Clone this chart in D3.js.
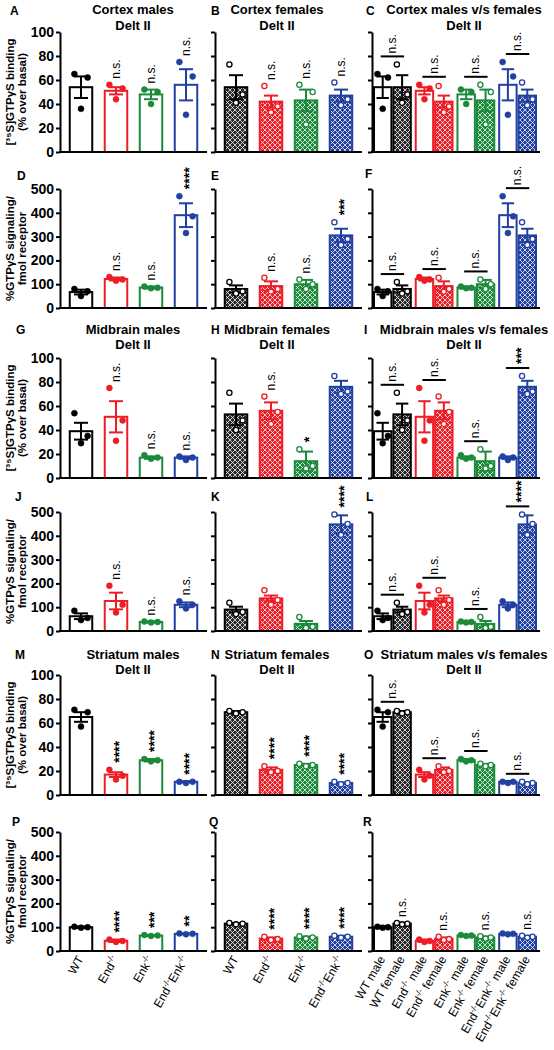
<!DOCTYPE html>
<html><head><meta charset="utf-8">
<script src="https://cdn.jsdelivr.net/npm/d3@7"></script>
<style>body{margin:0;background:#fff} text{font-family:"Liberation Sans",Arial,Helvetica,sans-serif}</style>
</head><body>
<script>
// ---------------- DATA ----------------
const genotypeLabels = [[["WT",0]],[["End",0],["-/-",1]],[["Enk",0],["-/-",1]],[["End",0],["-/-",1],["Enk",0],["-/-",1]]];
const sexLabels = ["male","female"];
const genotypeColors = ["#000000","#ee1c25","#1b8a3a","#2140a2"];

const ctxBindMaleMean = [54, 51, 48, 56];
const ctxBindMaleSem  = [9, 3, 4, 13];
const ctxBindMalePts  = [[65,62,36],[56,53,44],[52,50,40],[75,63,31]];
const ctxBindFemaleMean = [54, 42, 43, 47];
const ctxBindFemaleSem  = [10, 5, 9, 5];
const ctxBindFemalePts  = [[73,48,41],[55,38,33],[56,50,23],[58,44,39]];

const ctxSigMaleMean = [67, 122, 86, 390];
const ctxSigMaleSem  = [10, 6, 4, 50];
const ctxSigMalePts  = [[80,70,50],[130,120,115],[90,85,83],[470,385,315]];
const ctxSigFemaleMean = [80, 92, 100, 305];
const ctxSigFemaleSem  = [15, 20, 18, 28];
const ctxSigFemalePts  = [[109,70,61],[127,80,69],[120,100,80],[360,290,265]];

const midBindMaleMean = [39, 51, 17, 17];
const midBindMaleSem  = [7, 13, 1, 1];
const midBindMalePts  = [[54,35,29],[75,48,31],[19,17,16],[18,17,15]];
const midBindFemaleMean = [53, 56, 14, 76];
const midBindFemaleSem  = [9, 7, 8, 5];
const midBindFemalePts  = [[71,48,40],[68,55,45],[24,10,8],[85,72,70]];

const midSigMaleMean = [62, 126, 38, 110];
const midSigMaleSem  = [12, 35, 3, 10];
const midSigMalePts  = [[85,55,46],[190,110,78],[40,38,36],[125,110,95]];
const midSigFemaleMean = [90, 137, 30, 448];
const midSigFemaleSem  = [12, 12, 12, 38];
const midSigFemalePts  = [[119,80,71],[171,130,110],[59,18,13],[490,450,404]];

const strBindMaleMean = [65, 17, 29, 11];
const strBindMaleSem  = [4, 2, 1, 0.5];
const strBindMalePts  = [[71,69,57],[21,16,13],[30,29,28],[11,11,10]];
const strBindFemaleMean = [69, 21, 25, 10];
const strBindFemaleSem  = [1, 2, 1, 0.5];
const strBindFemalePts  = [[70,69,68],[24,20,19],[26,25,24],[11,10,9]];

const strSigMaleMean = [100, 43, 65, 72];
const strSigMaleSem  = [3, 5, 2, 2];
const strSigMalePts  = [[102,100,98],[48,42,38],[67,65,63],[74,72,70]];
const strSigFemaleMean = [115, 52, 57, 60];
const strSigFemaleSem  = [2, 5, 4, 4];
const strSigFemalePts  = [[118,115,112],[60,50,46],[62,57,52],[64,60,56]];

const sigA = ["", "n.s.", "n.s.", "n.s."];
const sigB = ["", "n.s.", "n.s.", "n.s."];
const sigC = ["n.s.", "n.s.", "n.s.", "n.s."];
const sigD = ["", "n.s.", "n.s.", "****"];
const sigE = ["", "n.s.", "n.s.", "***"];
const sigF = ["n.s.", "n.s.", "n.s.", "n.s."];
const sigG = ["", "n.s.", "n.s.", "n.s."];
const sigH = ["", "n.s.", "*", ""];
const sigI = ["n.s.", "n.s.", "n.s.", "***"];
const sigJ = ["", "n.s.", "n.s.", "n.s."];
const sigK = ["", "", "", "****"];
const sigL = ["n.s.", "n.s.", "n.s.", "****"];
const sigM = ["", "****", "****", "****"];
const sigN = ["", "****", "****", "****"];
const sigO = ["n.s.", "n.s.", "n.s.", "n.s."];
const sigP = ["", "****", "***", "**"];
const sigQ = ["", "****", "****", "****"];
const sigR = ["n.s.", "n.s.", "n.s.", "n.s."];

const bindTicks = [0, 20, 40, 60, 80, 100];
const sigTicks = [0, 100, 200, 300, 400, 500];
const yTitleBind = ["[³⁵S]GTPγS binding", "(% over basal)"];
const yTitleSig = ["%GTPγS signaling/", "fmol receptor"];

// ---------------- LAYOUT ----------------
const W = 554, H = 1050;
const cols = [[60, 207], [215, 362], [372, 540]];
const rows = [[32, 152], [189, 308], [358, 478], [512, 631], [675, 795], [832, 951]];

const svg = d3.select("body").append("svg").attr("width", W).attr("height", H);
const defs = svg.append("defs");
genotypeColors.forEach((c, i) => {
  const p = defs.append("pattern").attr("id", "pat" + i).attr("patternUnits", "userSpaceOnUse")
    .attr("width", 5).attr("height", 5);
  p.append("rect").attr("width", 5).attr("height", 5).attr("fill", i === 0 ? "#2a2a2a" : c);
  p.append("path").attr("d", "M-1,1 L1,-1 M0,5 L5,0 M4,6 L6,4 M-1,4 L1,6 M0,0 L5,5 M4,-1 L6,1")
    .attr("stroke", "#fff").attr("stroke-width", 0.75).attr("fill", "none");
});

const ds = (mean, sem, pts) => ({ mean, sem, pts });
const panels = [
  { L: "A", r: 0, c: 0, sex: 0, d: ds(ctxBindMaleMean, ctxBindMaleSem, ctxBindMalePts), sig: sigA, title: ["Cortex males", "Delt II"] },
  { L: "B", r: 0, c: 1, sex: 1, d: ds(ctxBindFemaleMean, ctxBindFemaleSem, ctxBindFemalePts), sig: sigB, title: ["Cortex females", "Delt II"] },
  { L: "C", r: 0, c: 2, cmp: [ds(ctxBindMaleMean, ctxBindMaleSem, ctxBindMalePts), ds(ctxBindFemaleMean, ctxBindFemaleSem, ctxBindFemalePts)], sig: sigC, title: ["Cortex males v/s females", "Delt II"] },
  { L: "D", r: 1, c: 0, sex: 0, d: ds(ctxSigMaleMean, ctxSigMaleSem, ctxSigMalePts), sig: sigD },
  { L: "E", r: 1, c: 1, sex: 1, d: ds(ctxSigFemaleMean, ctxSigFemaleSem, ctxSigFemalePts), sig: sigE },
  { L: "F", r: 1, c: 2, cmp: [ds(ctxSigMaleMean, ctxSigMaleSem, ctxSigMalePts), ds(ctxSigFemaleMean, ctxSigFemaleSem, ctxSigFemalePts)], sig: sigF },
  { L: "G", r: 2, c: 0, sex: 0, d: ds(midBindMaleMean, midBindMaleSem, midBindMalePts), sig: sigG, title: ["Midbrain males", "Delt II"] },
  { L: "H", r: 2, c: 1, sex: 1, d: ds(midBindFemaleMean, midBindFemaleSem, midBindFemalePts), sig: sigH, title: ["Midbrain females", "Delt II"] },
  { L: "I", r: 2, c: 2, cmp: [ds(midBindMaleMean, midBindMaleSem, midBindMalePts), ds(midBindFemaleMean, midBindFemaleSem, midBindFemalePts)], sig: sigI, title: ["Midbrain males v/s females", "Delt II"] },
  { L: "J", r: 3, c: 0, sex: 0, d: ds(midSigMaleMean, midSigMaleSem, midSigMalePts), sig: sigJ },
  { L: "K", r: 3, c: 1, sex: 1, d: ds(midSigFemaleMean, midSigFemaleSem, midSigFemalePts), sig: sigK },
  { L: "L", r: 3, c: 2, cmp: [ds(midSigMaleMean, midSigMaleSem, midSigMalePts), ds(midSigFemaleMean, midSigFemaleSem, midSigFemalePts)], sig: sigL },
  { L: "M", r: 4, c: 0, sex: 0, d: ds(strBindMaleMean, strBindMaleSem, strBindMalePts), sig: sigM, title: ["Striatum males", "Delt II"] },
  { L: "N", r: 4, c: 1, sex: 1, d: ds(strBindFemaleMean, strBindFemaleSem, strBindFemalePts), sig: sigN, title: ["Striatum females", "Delt II"] },
  { L: "O", r: 4, c: 2, cmp: [ds(strBindMaleMean, strBindMaleSem, strBindMalePts), ds(strBindFemaleMean, strBindFemaleSem, strBindFemalePts)], sig: sigO, title: ["Striatum males v/s females", "Delt II"] },
  { L: "P", r: 5, c: 0, sex: 0, d: ds(strSigMaleMean, strSigMaleSem, strSigMalePts), sig: sigP },
  { L: "Q", r: 5, c: 1, sex: 1, d: ds(strSigFemaleMean, strSigFemaleSem, strSigFemalePts), sig: sigQ },
  { L: "R", r: 5, c: 2, cmp: [ds(strSigMaleMean, strSigMaleSem, strSigMalePts), ds(strSigFemaleMean, strSigFemaleSem, strSigFemalePts)], sig: sigR, noLine: true },
];

const letterPos = { A: [10, 15], B: [211, 15], C: [366, 15], D: [17, 180], E: [211, 180], F: [365, 178],
  G: [16, 334], H: [211, 334], I: [364, 334], J: [15, 501], K: [211, 501], L: [366, 501],
  M: [15, 659], N: [211, 659], O: [364, 659], P: [12, 826], Q: [209, 826], R: [363, 826] };
const titleY = { 0: [14, 30], 2: [334, 349], 4: [659, 674] };
const titleX = [133, 277, 464];

function addLabel(sel, parts, size) {
  parts.forEach(([t, sup], i) => {
    const ts = sel.append("tspan").text(t);
    if (sup) ts.attr("font-size", size * 0.68).attr("dy", -size * 0.4);
    else if (i > 0 && parts[i - 1][1]) ts.attr("dy", size * 0.4);
  });
}

panels.forEach(p => {
  const [x0, x1] = cols[p.c];
  const [yt, yb] = rows[p.r];
  const isBind = p.r % 2 === 0;
  const ticks = isBind ? bindTicks : sigTicks;
  const y = d3.scaleLinear().domain([0, d3.max(ticks)]).range([yb, yt]);
  const g = svg.append("g");

  // items
  let items = [];
  if (!p.cmp) {
    const x = d3.scaleBand().domain(d3.range(4)).range([x0, x1]).paddingInner(0.3).paddingOuter(0.25);
    d3.range(4).forEach(i => items.push({ gi: i, sex: p.sex, x: x(i), bw: x.bandwidth(),
      mean: p.d.mean[i], sem: p.d.sem[i], pts: p.d.pts[i],
      label: genotypeLabels[i] }));
  } else {
    const xo = d3.scaleBand().domain(d3.range(4)).range([x0 + 1, x1 - 3]).paddingInner(0.07).paddingOuter(0.0);
    const xi = d3.scaleBand().domain([0, 1]).range([0, xo.bandwidth()]).padding(0);
    d3.range(4).forEach(i => [0, 1].forEach(s => items.push({ gi: i, sex: s, x: xo(i) + xi(s), bw: xi.bandwidth(),
      mean: p.cmp[s].mean[i], sem: p.cmp[s].sem[i], pts: p.cmp[s].pts[i],
      label: genotypeLabels[i].concat([[" " + sexLabels[s], 0]]) })));
  }

  // bars
  items.forEach(it => {
    const col = genotypeColors[it.gi];
    g.append("rect").attr("x", it.x + 1).attr("y", y(it.mean)).attr("width", it.bw - 2)
      .attr("height", yb - y(it.mean))
      .attr("fill", it.sex === 0 ? "#fff" : `url(#pat${it.gi})`)
      .attr("stroke", col).attr("stroke-width", 2);
  });
  // error bars
  items.forEach(it => {
    const col = genotypeColors[it.gi];
    const cx = it.x + it.bw / 2, hw = Math.min(7, it.bw * 0.32);
    const eg = g.append("g").attr("stroke", col).attr("stroke-width", 2);
    eg.append("line").attr("x1", cx).attr("x2", cx).attr("y1", y(it.mean - it.sem)).attr("y2", y(it.mean + it.sem));
    [it.mean - it.sem, it.mean + it.sem].forEach(v =>
      eg.append("line").attr("x1", cx - hw).attr("x2", cx + hw).attr("y1", y(v)).attr("y2", y(v)));
  });
  // points
  const offs = [-0.27, 0.27, 0];
  items.forEach(it => {
    const col = genotypeColors[it.gi];
    it.pts.forEach((v, k) => {
      g.append("circle").attr("cx", it.x + it.bw / 2 + offs[k] * it.bw).attr("cy", y(v))
        .attr("r", it.sex === 0 ? 3 : 2.6)
        .attr("fill", it.sex === 0 ? col : "#fff").attr("stroke", col).attr("stroke-width", it.sex === 0 ? 0.5 : 1.3);
    });
    it.top = Math.min(y(it.mean + it.sem), y(d3.max(it.pts)) - 3);
  });

  // axes
  const ax = g.append("g").attr("transform", `translate(${x0},0)`)
    .call(d3.axisLeft(y).tickValues(ticks).tickSize(4).tickSizeOuter(0).tickPadding(2)
      .tickFormat(p.c === 0 ? d3.format("d") : () => ""));
  ax.select(".domain").attr("stroke-width", 2);
  ax.selectAll(".tick line").attr("stroke-width", 2);
  ax.selectAll(".tick text").attr("font-size", 14).attr("font-weight", "bold").attr("font-family", '"Liberation Sans",Arial,sans-serif');
  g.append("line").attr("x1", x0 - 1).attr("x2", x1).attr("y1", yb).attr("y2", yb).attr("stroke", "#000").attr("stroke-width", 2);

  // significance
  const sigText = (cx, base, t) => {
    const star = t.indexOf("*") >= 0;
    const fs = star ? 14 : 12;
    g.append("text").attr("transform", `translate(${cx + (star ? fs * 0.58 : fs * 0.3)},${base - (star ? 1 : 0)}) rotate(-90)`)
      .attr("font-size", fs).attr("font-weight", star ? "bold" : "normal").text(t);
  };
  if (!p.cmp) {
    items.forEach((it, i) => { if (p.sig[i]) sigText(it.x + it.bw / 2, it.top - 3, p.sig[i]); });
  } else {
    d3.range(4).forEach(i => {
      const pair = items.filter(it => it.gi === i);
      const m = pair[0], f = pair[1];
      if (!p.sig[i]) return;
      if (p.noLine) { sigText(f.x + f.bw / 2, f.top - 3, p.sig[i]); return; }
      const ly = Math.min(m.top, f.top) - 5;
      g.append("line").attr("x1", m.x + m.bw / 2 - 2).attr("x2", f.x + f.bw / 2 + 2).attr("y1", ly).attr("y2", ly)
        .attr("stroke", "#000").attr("stroke-width", 2);
      sigText((m.x + m.bw / 2 + f.x + f.bw / 2) / 2, ly - 3, p.sig[i]);
    });
  }

  // y axis title for first column
  if (p.c === 0) {
    const lines = isBind ? yTitleBind : yTitleSig;
    const cy = (yt + yb) / 2;
    [13.5, 26].forEach((bx, k) => g.append("text").attr("transform", `translate(${bx},${cy}) rotate(-90)`)
      .attr("text-anchor", "middle").attr("font-size", 11.5).attr("font-weight", "bold").text(lines[k]));
  }

  // panel letter
  g.append("text").attr("x", letterPos[p.L][0]).attr("y", letterPos[p.L][1]).attr("font-size", 12)
    .attr("font-weight", "bold").text(p.L);

  // title
  if (p.title) {
    p.title.forEach((t, k) => g.append("text").attr("x", titleX[p.c]).attr("y", titleY[p.r][k])
      .attr("text-anchor", "middle").attr("font-size", 13).attr("font-weight", "bold").text(t));
  }

  // x labels (bottom row only)
  if (p.r === 5) {
    items.forEach(it => {
      const t = g.append("text").attr("transform", `translate(${it.x + it.bw / 2 + 3},${yb + 8}) rotate(-60)`)
        .attr("text-anchor", "end").attr("font-size", 12);
      addLabel(t, it.label, 12);
    });
  }
});
</script>
</body></html>
